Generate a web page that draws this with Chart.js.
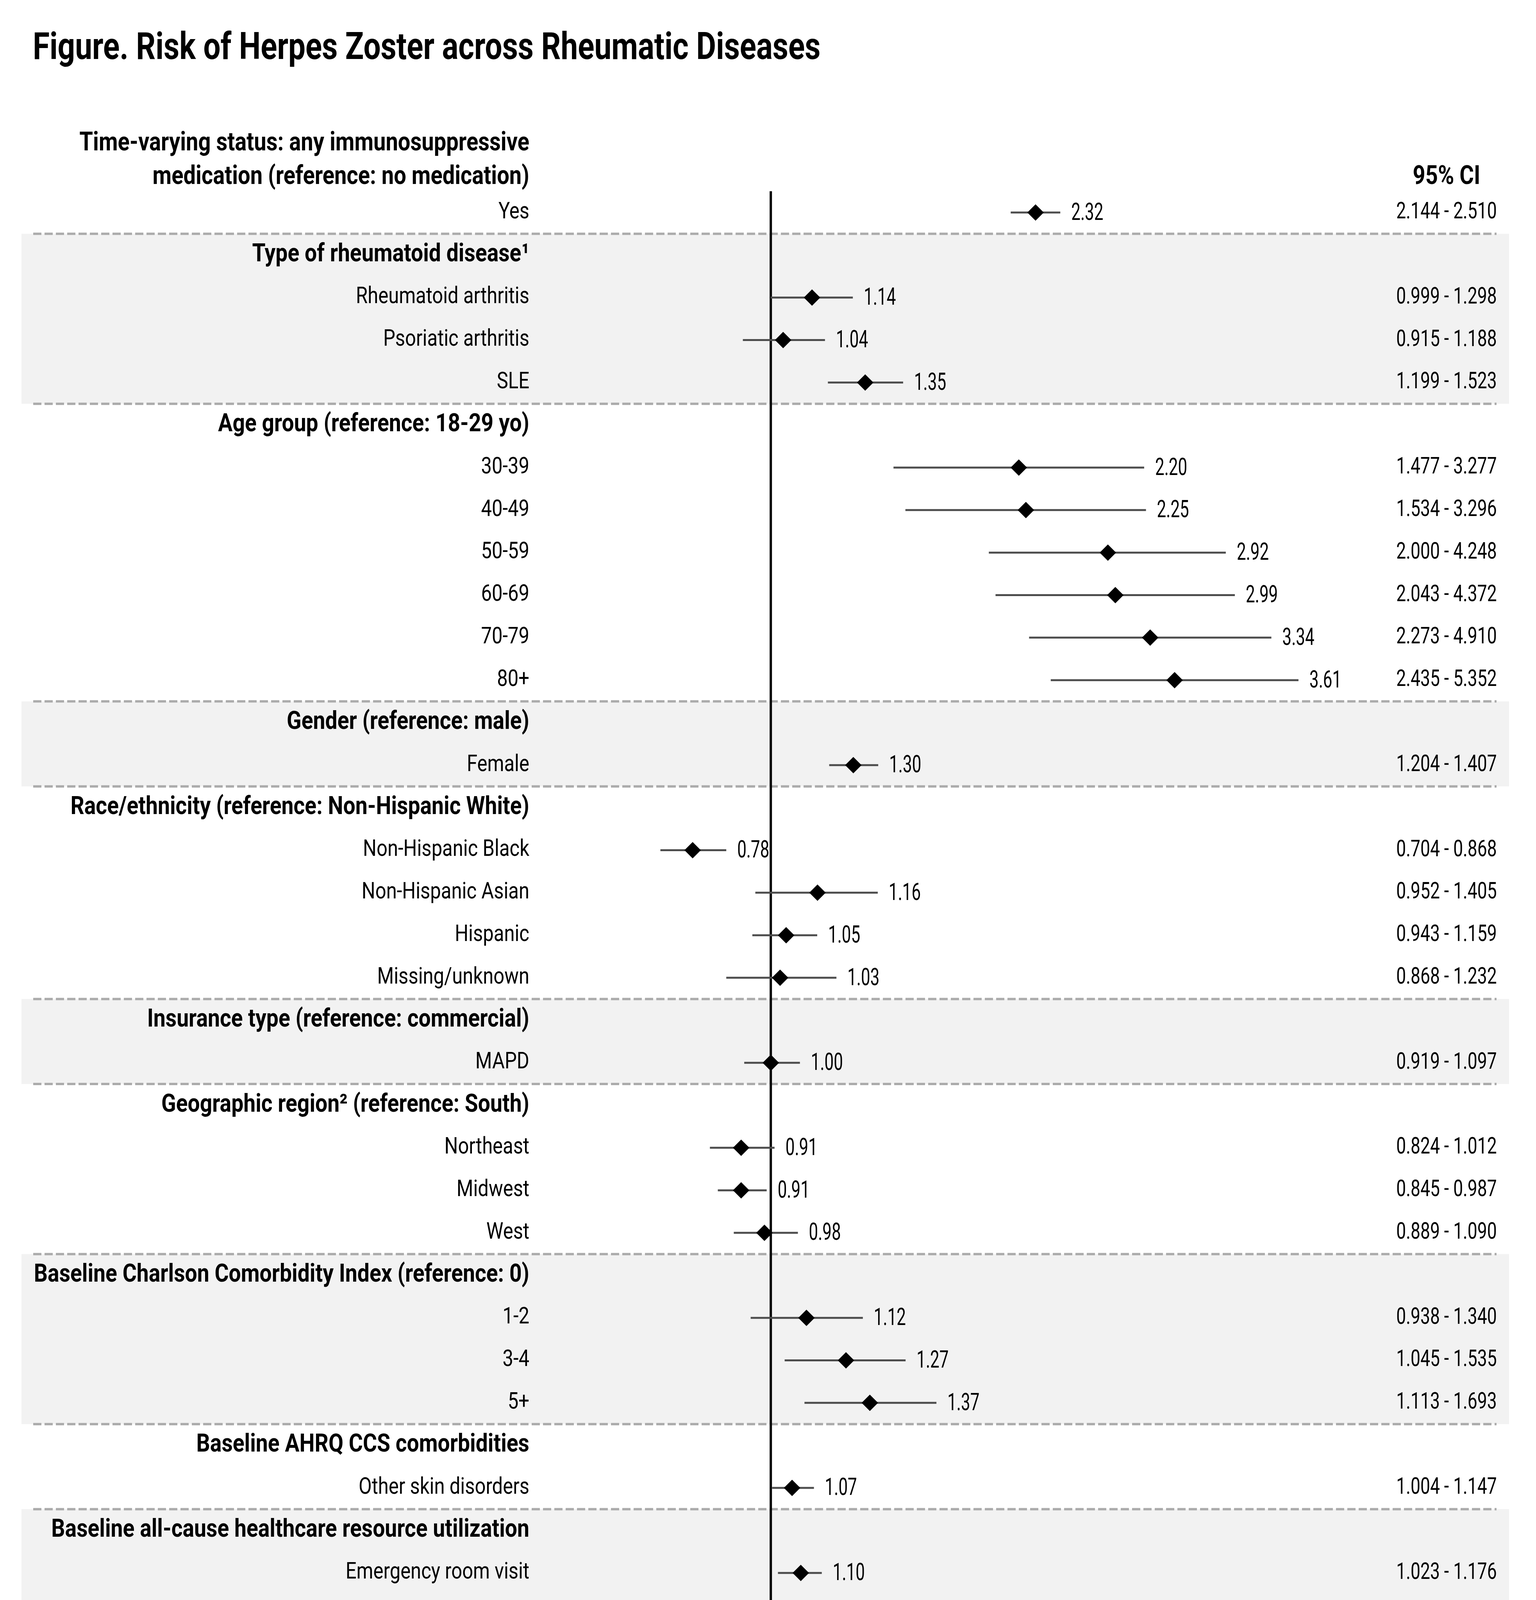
<!DOCTYPE html>
<html>
<head>
<meta charset="utf-8">
<style>
html,body{margin:0;padding:0;background:#fff;}
canvas{display:block;}
</style>
<script src="https://cdn.jsdelivr.net/npm/chart.js@4"></script>
</head>
<body>
<canvas id="c" width="3932" height="5434" style="width:3932px;height:5434px"></canvas>
<script>
// ---------------- DATA ----------------
const rowLabels = [
  'Yes',
  'Type of rheumatoid disease\u00B9',
  'Rheumatoid arthritis',
  'Psoriatic arthritis',
  'SLE',
  'Age group (reference: 18-29 yo)',
  '30-39',
  '40-49',
  '50-59',
  '60-69',
  '70-79',
  '80+',
  'Gender (reference: male)',
  'Female',
  'Race/ethnicity (reference: Non-Hispanic White)',
  'Non-Hispanic Black',
  'Non-Hispanic Asian',
  'Hispanic',
  'Missing/unknown',
  'Insurance type (reference: commercial)',
  'MAPD',
  'Geographic region\u00B2 (reference: South)',
  'Northeast',
  'Midwest',
  'West',
  'Baseline Charlson Comorbidity Index (reference: 0)',
  '1-2',
  '3-4',
  '5+',
  'Baseline AHRQ CCS comorbidities',
  'Other skin disorders',
  'Baseline all-cause healthcare resource utilization',
  'Emergency room visit',
  'Count of ambulatory visits (quartiles)  (reference: 0-11)',
  '12-20',
  '21-36',
  '37+'
];
const rowKinds = [
  'item','head','item','item','item','head','item','item','item','item','item','item',
  'head','item','head','item','item','item','item','head','item','head','item','item','item',
  'head','item','item','item','head','item','head','item','sub','item','item','item'
];
const hazardRatios = [
  2.32, null, 1.14, 1.04, 1.35, null, 2.20, 2.25, 2.92, 2.99, 3.34, 3.61,
  null, 1.30, null, 0.78, 1.16, 1.05, 1.03, null, 1.00, null, 0.91, 0.91, 0.98,
  null, 1.12, 1.27, 1.37, null, 1.07, null, 1.10, null, 1.12, 1.17, 1.31
];
const ciLower = [
  2.144, null, 0.999, 0.915, 1.199, null, 1.477, 1.534, 2.000, 2.043, 2.273, 2.435,
  null, 1.204, null, 0.704, 0.952, 0.943, 0.868, null, 0.919, null, 0.824, 0.845, 0.889,
  null, 0.938, 1.045, 1.113, null, 1.004, null, 1.023, null, 1.013, 1.057, 1.172
];
const ciUpper = [
  2.510, null, 1.298, 1.188, 1.523, null, 3.277, 3.296, 4.248, 4.372, 4.910, 5.352,
  null, 1.407, null, 0.868, 1.405, 1.159, 1.232, null, 1.097, null, 1.012, 0.987, 1.090,
  null, 1.340, 1.535, 1.693, null, 1.147, null, 1.176, null, 1.237, 1.290, 1.452
];
const xTickValues = [0.5, 1.0, 5.0];
const shadedGroups = [[1, 4], [12, 13], [19, 20], [25, 28], [31, 36]];
const separatorRows = [0.5, 4.5, 11.5, 13.5, 18.5, 20.5, 24.5, 28.5, 30.5];
const topHeaderLines = ['Time-varying status: any immunosuppressive', 'medication (reference: no medication)'];
const ciHeader = '95% CI';
const titleText = 'Figure. Risk of Herpes Zoster across Rheumatic Diseases';
const axisTitleText = 'Hazard ratio, 95% CI (log-scale)';
const footnoteLines = [
  '\u00B9Comparison for type of rheumatic disease was presence of an individual condition versus all those without that',
  'particular condition',
  '\u00B2South region includes patients from "other" region',
  'AHRQ, Agency for Healthcare Research and Quality; CI, confidence interval; CCS, Clinical Classifications Software; MAPD,',
  'Medicare Advantage Part D; SLE, systemic lupus erythematosus; yo, years of age'
];

// ---------------- BUILD ----------------
const FONT = 'Roboto, "Liberation Sans", "DejaVu Sans", sans-serif';
const pointData = [];
const barData = [];
hazardRatios.forEach((v, i) => {
  if (v === null) return;
  pointData.push({x: v, y: i});
  barData.push({x: ciLower[i], y: i});
  barData.push({x: ciUpper[i], y: i});
  barData.push({x: null, y: null});
});

function txt(ctx, s, x, y, o) {
  ctx.save();
  ctx.font = (o.weight || 400) + ' ' + o.size + 'px ' + FONT;
  ctx.fillStyle = o.color || '#000';
  ctx.textAlign = o.align || 'left';
  ctx.textBaseline = o.base || 'middle';
  ctx.translate(x, y);
  ctx.scale(o.sx || 1, 1);
  ctx.fillText(s, 0, 0);
  ctx.restore();
}

const LABEL_RIGHT = 1355;
const CI_CENTER = 3703;
const BOLD_SX = 0.85;

const forestPlugin = {
  id: 'forest',
  beforeDraw(chart) {
    const {ctx, scales: {y}} = chart;
    ctx.save();
    ctx.fillStyle = '#ffffff';
    ctx.fillRect(0, 0, chart.width, chart.height);
    ctx.fillStyle = '#f2f2f2';
    shadedGroups.forEach(([a, b]) => {
      const y0 = y.getPixelForValue(a - 0.5);
      const y1 = y.getPixelForValue(b + 0.5);
      ctx.fillRect(55, y0, 3863 - 55, y1 - y0);
    });
    ctx.strokeStyle = '#ababab';
    ctx.lineWidth = 6;
    ctx.setLineDash([21, 8]);
    separatorRows.forEach(r => {
      const yy = y.getPixelForValue(r);
      ctx.beginPath();
      ctx.moveTo(85, yy);
      ctx.lineTo(3831, yy);
      ctx.stroke();
    });
    ctx.restore();
  },
  beforeDatasetsDraw(chart) {
    const {ctx, chartArea, scales: {x}} = chart;
    const px = x.getPixelForValue(1);
    ctx.save();
    ctx.strokeStyle = '#000';
    ctx.lineWidth = 6;
    ctx.beginPath();
    ctx.moveTo(px, chartArea.top);
    ctx.lineTo(px, chartArea.bottom + 20);
    ctx.stroke();
    ctx.restore();
  },
  afterDraw(chart) {
    const {ctx, chartArea, scales: {x, y}} = chart;
    txt(ctx, titleText, 84, 151, {size: 97, weight: 700, base: 'alphabetic', sx: 0.806});
    const y0 = y.getPixelForValue(0);
    txt(ctx, topHeaderLines[0], LABEL_RIGHT, y0 - 176, {size: 66, weight: 700, align: 'right', sx: BOLD_SX});
    txt(ctx, topHeaderLines[1], LABEL_RIGHT, y0 - 90, {size: 66, weight: 700, align: 'right', sx: BOLD_SX});
    txt(ctx, ciHeader, CI_CENTER, y0 - 90, {size: 66, weight: 700, align: 'center', sx: BOLD_SX});
    rowLabels.forEach((lab, i) => {
      const py = y.getPixelForValue(i);
      const k = rowKinds[i];
      if (k === 'head') txt(ctx, lab, LABEL_RIGHT, py, {size: 65, weight: 700, align: 'right', sx: BOLD_SX});
      else if (k === 'sub') txt(ctx, lab, LABEL_RIGHT + 9, py, {size: 60, weight: 500, align: 'right', sx: 0.815});
      else txt(ctx, lab, LABEL_RIGHT, py, {size: 59, weight: 400, align: 'right', sx: 0.83});
      if (hazardRatios[i] !== null) {
        txt(ctx, hazardRatios[i].toFixed(2), x.getPixelForValue(ciUpper[i]) + 28, py + 3, {size: 62, weight: 400, sx: 0.68});
        txt(ctx, ciLower[i].toFixed(3) + ' - ' + ciUpper[i].toFixed(3), CI_CENTER, py, {size: 60, weight: 400, align: 'center', sx: 0.74});
      }
    });
    txt(ctx, axisTitleText, (chartArea.left + chartArea.right) / 2, chartArea.bottom + 214, {size: 66, weight: 700, align: 'center', sx: BOLD_SX});
    footnoteLines.forEach((l, i) => {
      txt(ctx, l, 50, 4918 + 110 * i, {size: 70, weight: 400, base: 'alphabetic', sx: 1.0});
    });
  }
};

const chart = new Chart(document.getElementById('c').getContext('2d'), {
  type: 'scatter',
  data: {
    datasets: [
      {
        label: '95% CI',
        data: barData,
        showLine: true,
        spanGaps: false,
        borderColor: '#4d4d4d',
        borderWidth: 5,
        pointRadius: 0,
        pointHoverRadius: 0,
        order: 2
      },
      {
        label: 'Hazard ratio',
        data: pointData,
        showLine: false,
        pointStyle: 'rectRot',
        pointRadius: 21,
        pointHoverRadius: 21,
        backgroundColor: '#000000',
        borderColor: '#000000',
        borderWidth: 0,
        order: 1
      }
    ]
  },
  options: {
    responsive: false,
    devicePixelRatio: 1,
    animation: false,
    events: [],
    layout: {padding: {left: 1415, right: 516, top: 489.6, bottom: 767.6}},
    plugins: {legend: {display: false}, tooltip: {enabled: false}},
    scales: {
      x: {
        type: 'logarithmic',
        min: 0.5,
        max: 6,
        afterBuildTicks: s => { s.ticks = xTickValues.map(v => ({value: v})); },
        afterFit: s => { s.height = 150; },
        ticks: {
          callback: v => Number(v).toFixed(1),
          font: {family: FONT, size: 66},
          color: '#000',
          padding: 35,
          maxRotation: 0,
          autoSkip: false
        },
        grid: {drawOnChartArea: false, drawTicks: true, tickLength: 20, tickWidth: 4, tickColor: '#000'},
        border: {display: true, color: '#000', width: 7}
      },
      y: {
        type: 'linear',
        min: -0.5,
        max: 36.5,
        reverse: true,
        display: false
      }
    }
  },
  plugins: [forestPlugin]
});
</script>
</body>
</html>
